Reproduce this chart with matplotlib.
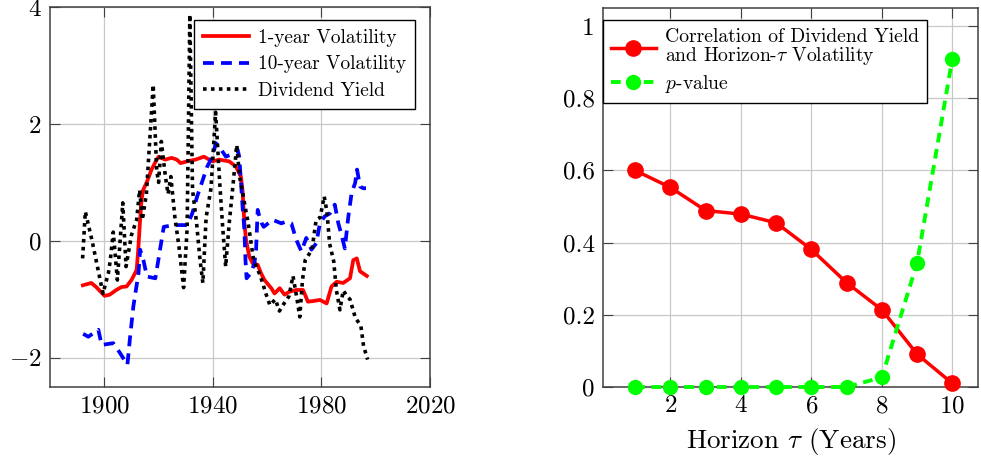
import matplotlib.pyplot as plt
from matplotlib.ticker import FuncFormatter

plt.rcParams['font.family'] = 'cmr10'
plt.rcParams['mathtext.fontset'] = 'cm'
plt.rcParams['axes.formatter.use_mathtext'] = True

# ---- left panel: standardized series over time ----
red_years = [1892.1, 1895.2, 1897.0, 1900.1, 1902.0, 1904.4, 1906.3, 1908.2, 1910.0, 1911.9,
             1912.5, 1913.1, 1913.7, 1914.3, 1915.6, 1917.4, 1919.3, 1920.0, 1922.4, 1924.8,
             1926.7, 1928.1, 1930.5, 1933.6, 1936.7, 1939.8, 1942.3, 1946.0, 1948.5, 1950.3,
             1950.9, 1951.6, 1952.2, 1953.4, 1954.6, 1956.5, 1957.7, 1959.0, 1961.5, 1962.7,
             1964.6, 1966.4, 1968.2, 1970.7, 1973.2, 1975.0, 1976.9, 1979.4, 1981.9, 1983.7,
             1985.6, 1988.0, 1990.5, 1991.7, 1993.0, 1994.2, 1996.7]
vol_1y = [-0.76, -0.72, -0.79, -0.94, -0.92, -0.84, -0.79, -0.78, -0.67, -0.50,
          -0.15, 0.30, 0.70, 0.87, 1.00, 1.22, 1.39, 1.44, 1.39, 1.42,
          1.39, 1.33, 1.36, 1.39, 1.44, 1.36, 1.39, 1.36, 1.27, 1.10,
          0.87, 0.30, 0.02, -0.27, -0.38, -0.41, -0.55, -0.67, -0.81, -0.90,
          -0.81, -0.92, -0.87, -0.84, -0.84, -1.04, -1.03, -1.01, -1.07, -0.78,
          -0.70, -0.72, -0.64, -0.33, -0.30, -0.52, -0.60]

blue_years = [1892.2, 1894.1, 1897.8, 1899.0, 1903.3, 1905.8, 1908.5, 1909.5, 1910.7, 1912.6,
              1913.2, 1914.4, 1915.7, 1918.8, 1920.7, 1921.9, 1925.6, 1930.5, 1932.4, 1934.2,
              1936.1, 1937.9, 1939.8, 1941.1, 1942.3, 1944.8, 1947.8, 1949.1, 1949.7, 1950.3,
              1950.9, 1951.6, 1952.0, 1952.4, 1954.0, 1955.3, 1955.9, 1956.5, 1957.1, 1958.0,
              1958.7, 1962.0, 1965.2, 1967.0, 1968.9, 1970.7, 1972.6, 1974.4, 1976.3, 1978.1,
              1979.4, 1981.2, 1983.1, 1984.9, 1986.2, 1987.4, 1988.6, 1989.9, 1991.1, 1992.4,
              1993.1, 1994.2, 1995.4, 1996.4]
vol_10y = [-1.59, -1.64, -1.52, -1.78, -1.75, -1.92, -2.12, -1.64, -1.12, -0.55,
           -0.15, -0.33, -0.61, -0.64, -0.10, 0.24, 0.27, 0.27, 0.47, 0.76,
           1.02, 1.27, 1.44, 1.67, 1.61, 1.44, 1.50, 1.56, 1.44, 1.04,
           0.60, 0.19, -0.33, -0.64, -0.55, -0.38, -0.15, 0.53, 0.42, 0.30,
           0.24, 0.36, 0.30, 0.33, 0.30, 0.02, -0.18, 0.05, -0.15, -0.04,
           0.30, 0.42, 0.47, 0.62, 0.30, 0.10, -0.13, 0.42, 0.82, 0.99,
           1.22, 0.93, 0.90, 0.90]

dy_years = [1892.0, 1893.0, 1895.5, 1897.5, 1899.5, 1901.5, 1902.2, 1903.3, 1904.8, 1906.8,
            1908.0, 1910.0, 1911.9, 1913.0, 1914.0, 1915.5, 1918.0, 1919.3, 1920.0, 1921.0,
            1922.5, 1923.5, 1924.5, 1926.0, 1927.5, 1929.2, 1930.5, 1931.5, 1932.5, 1934.0,
            1935.2, 1936.3, 1937.5, 1939.3, 1941.0, 1942.5, 1943.5, 1944.7, 1946.0, 1947.5,
            1948.8, 1949.8, 1950.8, 1951.8, 1953.0, 1955.0, 1957.5, 1959.5, 1961.0, 1963.0,
            1964.5, 1966.5, 1968.0, 1969.5, 1971.0, 1972.0, 1973.0, 1974.0, 1976.5, 1978.0,
            1979.5, 1981.0, 1982.0, 1983.0, 1984.5, 1985.5, 1986.8, 1988.0, 1989.5, 1990.5,
            1992.5, 1994.5, 1995.5, 1997.0]
div_yield = [-0.30, 0.50, 0.00, -0.45, -0.90, -0.55, -0.33, 0.15, -0.67, 0.65,
             -0.44, 0.10, 0.36, 0.87, 0.36, 0.80, 2.67, 1.20, 1.00, 1.70,
             1.10, 0.80, 1.10, 0.40, -0.10, -0.80, 0.20, 3.87, 0.87, 0.30,
             -0.30, -0.72, 0.40, 0.90, 2.20, 1.00, 0.30, -0.44, 0.30, 1.00,
             1.64, 1.10, 0.87, 0.60, 0.30, -0.33, -0.60, -0.90, -1.10, -1.00,
             -1.20, -1.05, -0.95, -0.60, -1.00, -1.30, -0.67, -0.33, -0.15, 0.35,
             0.40, 0.76, 0.50, -0.05, -0.35, -0.85, -1.18, -0.85, -0.95, -1.00,
             -1.32, -1.45, -1.80, -2.03]

# ---- right panel: correlation by horizon ----
horizon = [1, 2, 3, 4, 5, 6, 7, 8, 9, 10]
corr = [0.600, 0.553, 0.489, 0.479, 0.455, 0.381, 0.289, 0.214, 0.091, 0.010]
p_value = [0.0, 0.0, 0.0, 0.0, 0.0, 0.0, 0.0, 0.027, 0.344, 0.910]

fig = plt.figure(figsize=(9.81, 4.62), dpi=100)
ax1 = fig.add_axes([0.051, 0.1623, 0.3874, 0.8225])
ax2 = fig.add_axes([0.6147, 0.1623, 0.3827, 0.8204])

grid_kw = dict(color='#c8c8c8', linewidth=0.9)
spine_col = '#404040'


def style_axes(ax):
    ax.grid(True, **grid_kw)
    ax.set_axisbelow(True)
    for s in ax.spines.values():
        s.set_color(spine_col)
        s.set_linewidth(1.1)
    ax.tick_params(direction='in', length=7, width=0.8, color=spine_col,
                   top=True, right=True, labelsize=18, pad=6)


ax1.plot(red_years, vol_1y, color='red', lw=2.7, label='1-year Volatility')
ax1.plot(blue_years, vol_10y, color='blue', lw=2.7, dashes=(2.9, 1.9),
         label='10-year Volatility')
ax1.plot(dy_years, div_yield, color='black', lw=2.6, dashes=(1, 1.2),
         dash_capstyle='butt', label='Dividend Yield')
ax1.set_xlim(1880, 2020)
ax1.set_ylim(-2.5, 4)
ax1.set_xticks([1900, 1940, 1980, 2020])
ax1.set_yticks([-2, 0, 2, 4])
style_axes(ax1)
leg1 = ax1.legend(loc='upper left', bbox_to_anchor=(194 / 981, 1 - 20 / 462),
                  bbox_transform=fig.transFigure, borderaxespad=0, fontsize=13.9,
                  fancybox=False, edgecolor='black', framealpha=1, handlelength=2.4,
                  handletextpad=0.45, labelspacing=0.45, borderpad=0.45)
leg1.get_frame().set_linewidth(1.0)

ax2.plot(horizon, corr, color='red', lw=2.5, marker='o', markersize=11,
         clip_on=False, zorder=3,
         label='Correlation of Dividend Yield\nand Horizon-$\\tau$ Volatility')
ax2.plot(horizon, p_value, color='#00ff00', lw=2.8, dashes=(2.5, 1.7),
         marker='o', markersize=10, clip_on=False, zorder=4, label='$p$-value')
ax2.set_xlim(0.09, 10.74)
ax2.set_ylim(0, 1.05)
ax2.set_xticks([2, 4, 6, 8, 10])
ax2.set_yticks([0, 0.2, 0.4, 0.6, 0.8, 1.0])
ax2.yaxis.set_major_formatter(FuncFormatter(lambda v, p: f'{v:g}'))
style_axes(ax2)
ax2.set_xlabel('Horizon $\\tau$ (Years)', fontsize=19.5, labelpad=6)
leg2 = ax2.legend(loc='upper left', bbox_to_anchor=(603 / 981, 1 - 20 / 462),
                  bbox_transform=fig.transFigure, borderaxespad=0, fontsize=14.1,
                  fancybox=False, edgecolor='black', framealpha=1, handlelength=2.3,
                  handletextpad=0.45, labelspacing=0.3, borderpad=0.4)
leg2.get_frame().set_linewidth(1.0)
for t in leg2.get_texts():
    t.set_linespacing(0.95)

fig.savefig('out.png', dpi=100)
